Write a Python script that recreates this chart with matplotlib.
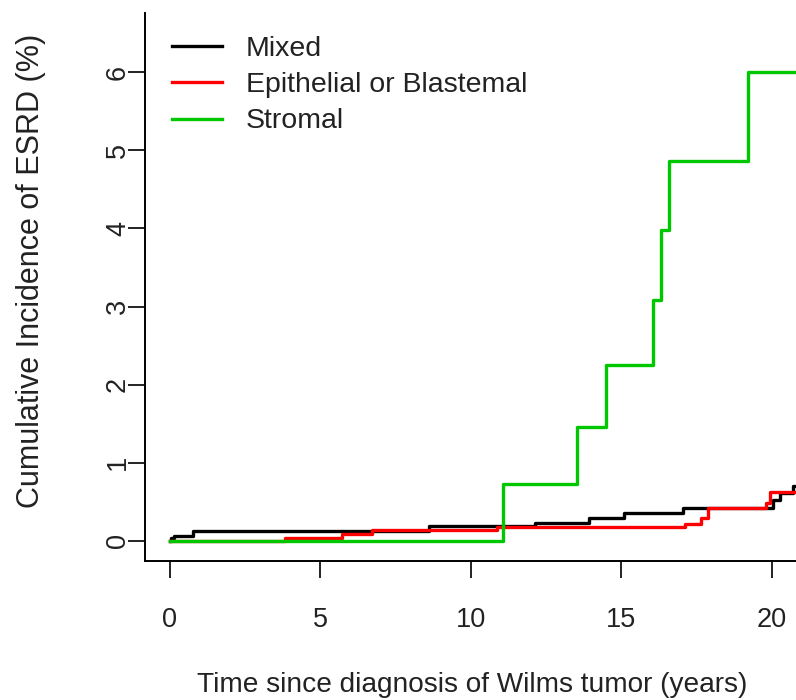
import matplotlib
matplotlib.use("Agg")
import matplotlib.pyplot as plt
import numpy as np

plt.rcParams['font.family'] = ['Liberation Sans', 'DejaVu Sans']

# cumulative incidence step curves (years, percent)
mixed_t = [0.0, 0.05, 0.15, 0.77, 8.6, 12.13, 13.93, 15.1, 17.05, 20.05, 20.27, 20.7, 22.0]
mixed_y = [0.0, 0.03, 0.065, 0.13, 0.19, 0.23, 0.29, 0.35, 0.42, 0.52, 0.61, 0.70, 0.70]

epi_t = [0.0, 3.82, 5.7, 6.7, 10.85, 17.1, 17.66, 17.88, 19.8, 19.93, 22.0]
epi_y = [0.0, 0.03, 0.08, 0.14, 0.18, 0.22, 0.29, 0.415, 0.48, 0.63, 0.63]

strom_t = [0.0, 11.06, 13.53, 14.49, 16.04, 16.33, 16.59, 19.21, 22.0]
strom_y = [0.0, 0.73, 1.46, 2.25, 3.08, 3.98, 4.87, 6.0, 6.0]

series = [
    ("Mixed", mixed_t, mixed_y, "black"),
    ("Epithelial or Blastemal", epi_t, epi_y, "#FF0000"),
    ("Stromal", strom_t, strom_y, "#00C800"),
]

xticks = [0, 5, 10, 15, 20]
yticks = [0, 1, 2, 3, 4, 5, 6]

W, H = 796, 700
fig = plt.figure(figsize=(W / 100, H / 100), dpi=100)
ax = fig.add_axes([145 / W, (H - 561) / H, 1 - 145 / W, (561 - 13) / H])

for name, t, y, col in series:
    ax.step(t, y, where="post", color=col, lw=2.4, label=name)

ax.set_xlim(-0.83, 20.8)
ax.set_ylim(-0.26, 6.76)
ax.set_xticks(xticks)
ax.set_yticks(yticks)

for s in ["top", "right"]:
    ax.spines[s].set_visible(False)
for s in ["left", "bottom"]:
    ax.spines[s].set_linewidth(1.4)

ax.tick_params(axis="x", length=12, width=1.4, pad=21, labelsize=19.5, colors="#222222")
ax.tick_params(axis="y", length=12, width=1.4, pad=-2, labelsize=19.5, colors="#222222")
for lab in ax.get_yticklabels():
    lab.set_rotation(90)
    lab.set_va("center")

fig.text(472 / W, 1 - 685 / H, "Time since diagnosis of Wilms tumor (years)",
         ha="center", va="center", fontsize=20.2, color="#222222")
fig.text(31 / W, 1 - 271 / H, "Cumulative Incidence of ESRD (%)",
         ha="center", va="center", rotation=90, fontsize=22, color="#222222")

leg = ax.legend(loc="upper left", bbox_to_anchor=(172 / W, 1 - 36 / H),
                bbox_transform=fig.transFigure, frameon=False, fontsize=20.5,
                borderpad=0, borderaxespad=0, handlelength=1.75,
                handletextpad=0.85, labelspacing=0.36)
for txt in leg.get_texts():
    txt.set_color("#222222")

fig.savefig("out.png", dpi=100)
